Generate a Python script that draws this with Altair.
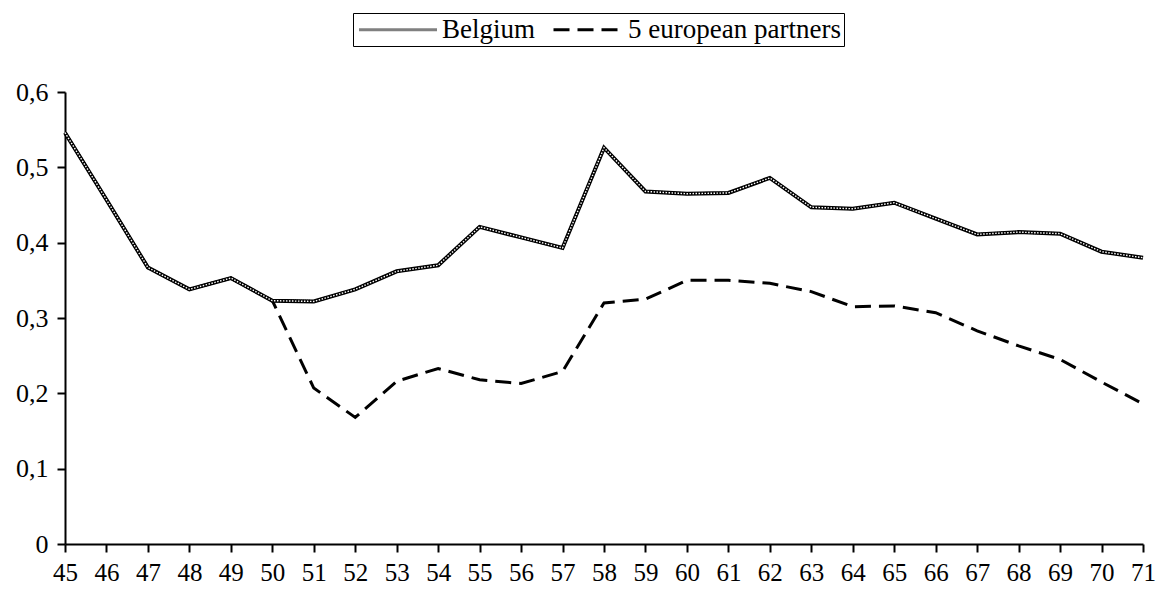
import altair as alt
import pandas as pd

years = list(range(45, 72))
belgium = [0.546, 0.457, 0.367, 0.338, 0.353, 0.323, 0.322, 0.338, 0.362, 0.370,
           0.421, 0.407, 0.393, 0.526, 0.468, 0.465, 0.466, 0.486, 0.447, 0.445,
           0.453, 0.432, 0.411, 0.414, 0.412, 0.388, 0.380]
partners = [0.546, 0.457, 0.367, 0.338, 0.353, 0.323, 0.207, 0.168, 0.216, 0.233,
            0.218, 0.213, 0.229, 0.320, 0.325, 0.350, 0.350, 0.346, 0.335, 0.315,
            0.316, 0.307, 0.283, 0.263, 0.245, 0.215, 0.186]
series_names = ["Belgium", "5 european partners"]
y_ticks = [0, 0.1, 0.2, 0.3, 0.4, 0.5, 0.6]

rows = []
for yr, v in zip(years, belgium):
    rows.append({"year": yr, "value": v, "series": series_names[0]})
for yr, v in zip(years, partners):
    rows.append({"year": yr, "value": v, "series": series_names[1]})
df = pd.DataFrame(rows)

FONT = "Liberation Serif, Times New Roman, Times, serif"

x_enc = alt.X("year:Q", scale=alt.Scale(domain=[45, 71], nice=False, zero=False),
              axis=alt.Axis(values=years, format="d", title=None, labelPadding=8,
                            labelFontSize=25, labelFlush=False, labelOverlap=False))
y_enc = alt.Y("value:Q", scale=alt.Scale(domain=[0, 0.6], nice=False),
              axis=alt.Axis(values=y_ticks, title=None, labelPadding=9,
                            labelExpr="replace(format(datum.value, '.1~f'), '.', ',')"))

base = alt.Chart(df)

legend_layer = base.mark_line(strokeWidth=3, color="black").encode(
    x=x_enc, y=y_enc,
    strokeDash=alt.StrokeDash(
        "series:N",
        scale=alt.Scale(domain=series_names, range=[[1, 1], [16, 8]]),
        legend=alt.Legend(
            title=None, orient="none", legendX=288, legendY=-79,
            direction="horizontal", symbolType="M-1,0H6.8", symbolSize=400,
            symbolStrokeWidth=3, symbolStrokeColor="black", symbolDashOffset=16,
            labelFont=FONT, labelFontSize=27, labelColor="black", labelLimit=0,
            labelOffset=59, columnPadding=4, padding=3,
            strokeColor="black", fillColor="white",
        ),
    ),
)

bel = base.transform_filter(alt.datum.series == series_names[0])
bel_black = bel.mark_line(strokeWidth=4, color="black").encode(x=x_enc, y=y_enc)
bel_white = bel.mark_line(strokeWidth=1.4, color="white", strokeDash=[1.5, 1.5]).encode(x=x_enc, y=y_enc)

chart = alt.layer(legend_layer, bel_black, bel_white).properties(
    width=1078, height=452,
    autosize=alt.AutoSizeParams(type="none"),
    padding={"left": 57, "top": 84, "right": 13, "bottom": 42},
    background="white",
).configure_view(stroke=None).configure_axis(
    grid=False, domainColor="black", domainWidth=2, tickColor="black",
    tickWidth=2, tickSize=8, labelFont=FONT, labelFontSize=26, labelColor="black",
)

chart.save("out.html", embed_options={"renderer": "svg", "actions": False})
